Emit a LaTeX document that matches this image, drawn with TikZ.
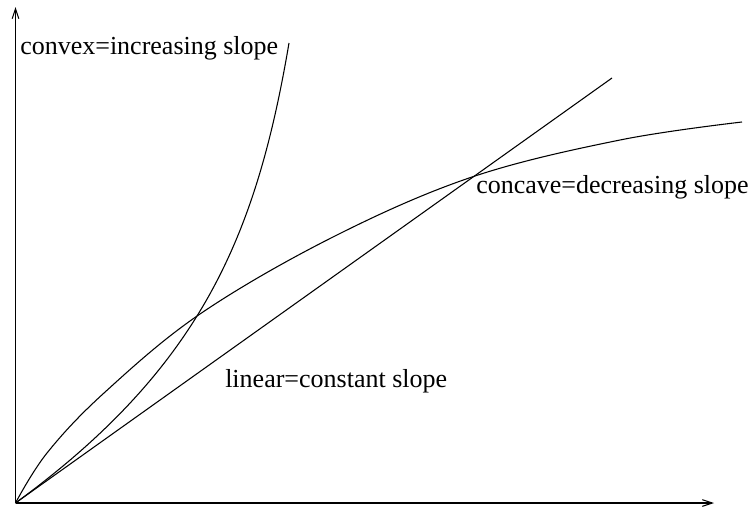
\documentclass[tikz,border=0pt]{standalone}
\usepackage{fontspec}
\setmainfont{Liberation Serif}
\usetikzlibrary{arrows.meta}
\begin{document}
\begin{tikzpicture}[x=0.75pt,y=-0.75pt,
  curve/.style={line width=0.8pt},
  axis/.style={line width=0.8pt,-{Straight Barb[length=7.5pt,width=5pt]}},
  lbl/.style={anchor=base west,inner sep=0pt,font=\fontsize{19.5pt}{22pt}\selectfont}]
\useasboundingbox (0,0) rectangle (751,508);
\coordinate (o) at (15.5,503);
\coordinate (ytop) at (15.5,7);
\coordinate (xend) at (714,503);
\draw[axis] (o) -- (ytop);
\draw[axis] (o) -- (xend);
% linear
\coordinate (lend) at (612,78);
\draw[curve] (o) -- (lend);
% convex
\coordinate (cvxend) at (289,43);
\draw[curve] (o) .. controls (200,368) and (256,238) .. (cvxend);
% concave
\draw[curve] plot[smooth,tension=0.6] coordinates {(15.5,503) (47,453) (104,393) (200,314) (333,237) (472,177) (620,140) (742,122)};
\node[lbl] (cvx) at (20,54) {convex=increasing slope};
\node[lbl] (ccv) at (476,193) {concave=decreasing slope};
\node[lbl] (lin) at (225,387) {linear=constant slope};
\end{tikzpicture}
\end{document}
